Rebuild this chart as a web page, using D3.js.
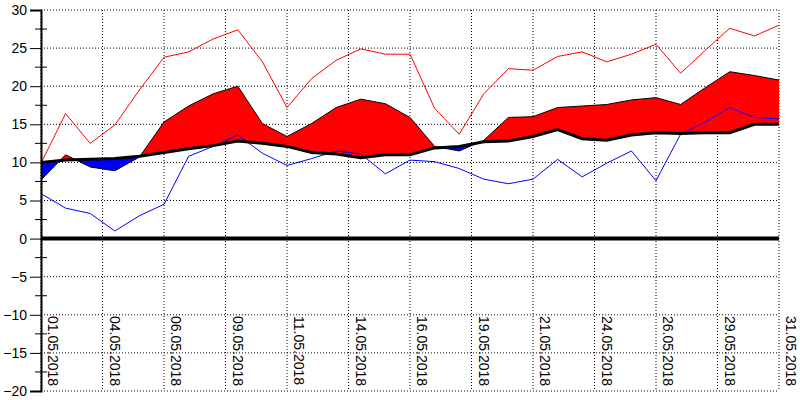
<!DOCTYPE html>
<html><head><meta charset="utf-8">
<script src="https://cdn.jsdelivr.net/npm/d3@7"></script>
<style>body{margin:0;background:#fff}</style>
</head><body>
<svg id="chart" width="800" height="400"></svg>
<script>
const days = d3.range(1, 32);
const tMax = [9.9,16.4,12.5,14.9,19.5,23.8,24.5,26.2,27.4,23.2,17.2,21,23.4,24.9,24.2,24.2,
  17.1,13.7,19.0,22.3,22.1,23.9,24.5,23.2,24.2,25.5,21.7,24.7,27.6,26.6,28.0];
const tMin = [5.9,4.0,3.3,1.0,3.0,4.5,10.8,12.1,13.6,11.2,9.6,10.5,11.5,11.1,8.5,10.3,
  10.1,9.2,7.8,7.2,7.8,10.4,8.1,9.9,11.5,7.6,13.7,15.3,17.2,15.9,15.7];
const tMean = [7.7,11.0,9.4,8.9,10.7,15.3,17.4,19.0,20.0,15.1,13.4,15.1,17.2,18.3,17.7,15.9,
  12.1,11.5,12.9,15.9,16.0,17.2,17.4,17.6,18.2,18.5,17.6,19.8,21.9,21.4,20.8];
const tNorm = [10.0,10.3,10.4,10.5,10.8,11.3,11.8,12.2,12.8,12.5,12.1,11.3,11.1,10.6,11.0,11.0,
  11.9,12.1,12.7,12.8,13.4,14.3,13.1,12.9,13.6,13.9,13.8,13.9,13.9,15.0,15.0];
const yTicks = d3.range(-20, 31, 5);
const xTickDays = d3.range(1, 31.1, 2.5);
const xTickLabels = ["01.05.2018","04.05.2018","06.05.2018","09.05.2018","11.05.2018","14.05.2018",
  "16.05.2018","19.05.2018","21.05.2018","24.05.2018","26.05.2018","29.05.2018","31.05.2018"];

const svg = d3.select("#chart");
const x = d3.scaleLinear().domain([1, 31]).range([41, 779]);
const y = d3.scaleLinear().domain([-20, 30]).range([391, 10]);

// grid
svg.append("g").selectAll("line").data(yTicks).join("line")
  .attr("x1", 41).attr("x2", 779).attr("y1", d => y(d)).attr("y2", d => y(d))
  .attr("stroke", "#000").attr("stroke-dasharray", "1,2");
svg.append("g").selectAll("line").data(xTickDays).join("line")
  .attr("x1", d => x(d)).attr("x2", d => x(d)).attr("y1", 10).attr("y2", 391)
  .attr("stroke", "#000").attr("stroke-dasharray", "1,2");

// fill between mean and normal, red above normal, blue below
const defs = svg.append("defs");
const above = d3.area().x((d, i) => x(days[i])).y0(0).y1((d, i) => y(tNorm[i]));
const below = d3.area().x((d, i) => x(days[i])).y0(400).y1((d, i) => y(tNorm[i]));
defs.append("clipPath").attr("id", "clipAbove").append("path").attr("d", above(tNorm));
defs.append("clipPath").attr("id", "clipBelow").append("path").attr("d", below(tNorm));
const band = d3.area().x((d, i) => x(days[i])).y0((d, i) => y(tNorm[i])).y1((d, i) => y(tMean[i]));
svg.append("path").attr("d", band(tMean)).attr("fill", "#ff0000").attr("clip-path", "url(#clipAbove)");
svg.append("path").attr("d", band(tMean)).attr("fill", "#0000ff").attr("clip-path", "url(#clipBelow)");

const line = arr => d3.line().x((d, i) => x(days[i])).y(d => y(d))(arr);
svg.append("path").attr("d", line(tMean)).attr("fill", "none").attr("stroke", "#000").attr("stroke-width", 1);
svg.append("path").attr("d", line(tMax)).attr("fill", "none").attr("stroke", "#ff0000").attr("stroke-width", 1);
svg.append("path").attr("d", line(tMin)).attr("fill", "none").attr("stroke", "#0000ff").attr("stroke-width", 1);
svg.append("path").attr("d", line(tNorm)).attr("fill", "none").attr("stroke", "#000").attr("stroke-width", 3);

// zero line
svg.append("line").attr("x1", 41).attr("x2", 779).attr("y1", y(0)).attr("y2", y(0))
  .attr("stroke", "#000").attr("stroke-width", 4);

// y axis
const yAxis = d3.axisLeft(y).tickValues(yTicks).tickSize(11).tickPadding(3);
const gy = svg.append("g").attr("transform", "translate(41,0)").call(yAxis);
gy.select(".domain").attr("stroke", "#000").attr("stroke-width", 2);
gy.selectAll("text").style("font-family", "Liberation Sans, Arial, sans-serif")
  .style("font-size", "14px").attr("fill", "#000");
svg.append("g").selectAll("line").data(d3.range(-17.5, 30, 5)).join("line")
  .attr("x1", 35).attr("x2", 47).attr("y1", d => y(d)).attr("y2", d => y(d))
  .attr("stroke", "#000");

// x labels
svg.append("g").selectAll("text").data(xTickDays).join("text")
  .attr("transform", d => `translate(${x(d) + 7},316) rotate(90)`)
  .style("font-family", "Liberation Sans, Arial, sans-serif").style("font-size", "14px")
  .text((d, i) => xTickLabels[i]);
</script>
</body></html>
